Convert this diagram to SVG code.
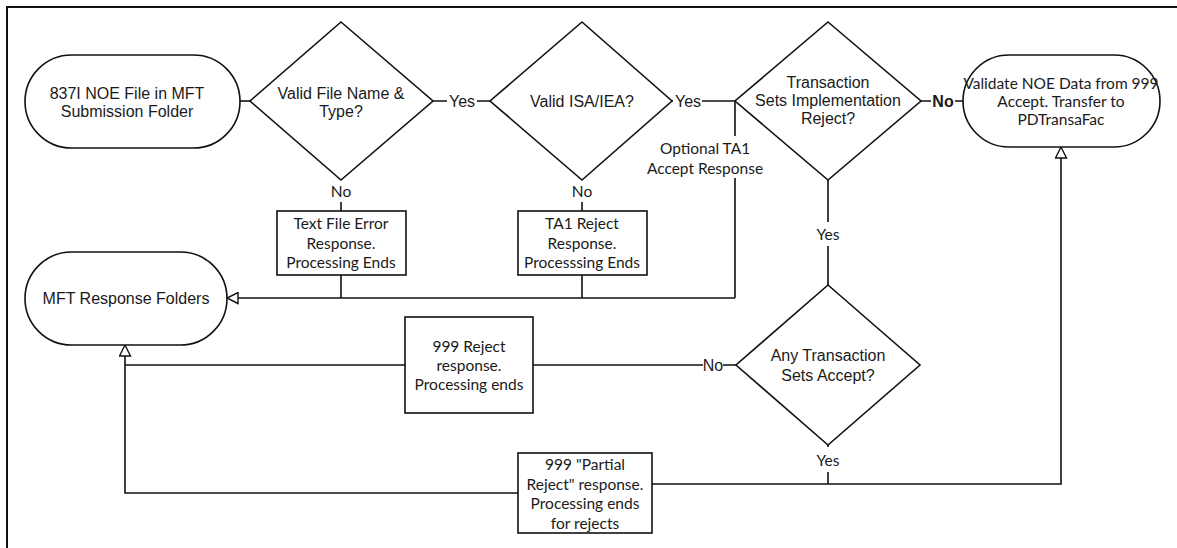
<svg xmlns="http://www.w3.org/2000/svg" width="1177" height="548" viewBox="0 0 1177 548">
<style>
.shape{fill:#fff;stroke:#111;stroke-width:1.6}
.ln{fill:none;stroke:#111;stroke-width:1.6}
.a{font-family:"Liberation Sans",Arial,sans-serif;font-size:16px;fill:#1a1a1a;text-anchor:middle;dominant-baseline:central}
.c{font-family:Lato,"Open Sans",sans-serif;font-size:15.5px;fill:#1a1a1a;text-anchor:middle;dominant-baseline:central}
</style>
<defs>
<marker id="arr" markerUnits="userSpaceOnUse" markerWidth="14" markerHeight="13" refX="12" refY="6.5" orient="auto">
<path d="M1,1 L12,6.5 L1,12 Z" fill="#fff" stroke="#111" stroke-width="1.4"/>
</marker>
</defs>
<rect x="7" y="7" width="1300" height="700" fill="none" stroke="#111" stroke-width="2"/>
<g id="connectors">
<path class="ln" d="M240,101 H250"/>
<path class="ln" d="M433,101 H447 M477,101 H490"/>
<path class="ln" d="M672,101 H673 M702,101 H735"/>
<path class="ln" d="M921,101 H931 M955,101 H963"/>
<path class="ln" d="M735,101 V136 M735,178 V298"/>
<path class="ln" d="M341,202 V211 M341,275 V298"/>
<path class="ln" d="M582,202 V211 M582,275 V298"/>
<path class="ln" d="M735,298 H227" marker-end="url(#arr)"/>
<path class="ln" d="M828,180 V222 M828,246 V285"/>
<path class="ln" d="M533,365 H703 M723,365 H736"/>
<path class="ln" d="M405,365 H125"/>
<path class="ln" d="M518,493 H125 V345" marker-end="url(#arr)"/>
<path class="ln" d="M828,445 V447 M828,472 V484"/>
<path class="ln" d="M652,484 H1061 V147" marker-end="url(#arr)"/>
<text class="a" x="462" y="101">Yes</text>
<text class="a" x="688" y="101">Yes</text>
<text class="a" x="943" y="101" font-weight="bold">No</text>
<text class="c" x="341" y="191" font-size="16">No</text>
<text class="c" x="582" y="191" font-size="16">No</text>
<text class="c" x="705" y="148" font-size="14">Optional TA1</text>
<text class="c" x="705" y="168" font-size="14">Accept Response</text>
<text class="c" x="828" y="234" font-size="20">Yes</text>
<text class="a" x="713" y="365" font-size="15">No</text>
<text class="c" x="828" y="460" font-size="20">Yes</text>
</g>
<g id="start">
<rect class="shape" x="25" y="55" width="215" height="93" rx="46.5"/>
<text class="a" x="127" y="93">837I NOE File in MFT</text>
<text class="a" x="127" y="111">Submission Folder</text>
</g>
<g id="validFileName">
<polygon class="shape" points="341,22 433,101 341,180 250,101"/>
<text class="a" x="341" y="93">Valid File Name &amp;</text>
<text class="a" x="341" y="111">Type?</text>
</g>
<g id="validISA">
<polygon class="shape" points="582,22 672,101 582,180 490,101"/>
<text class="a" x="582" y="101">Valid ISA/IEA?</text>
</g>
<g id="tsReject">
<polygon class="shape" points="828,22 921,101 828,180 735,101"/>
<text class="a" x="828" y="82">Transaction</text>
<text class="a" x="828" y="100">Sets Implementation</text>
<text class="a" x="828" y="118">Reject?</text>
</g>
<g id="validateNOE">
<rect class="shape" x="963" y="55" width="197" height="92" rx="46"/>
<text class="c" x="1061" y="83" font-size="16.5">Validate NOE Data from 999</text>
<text class="c" x="1061" y="101" font-size="16.5">Accept. Transfer to</text>
<text class="c" x="1061" y="119" font-size="16.5">PDTransaFac</text>
</g>
<g id="textFileError">
<rect class="shape" x="277" y="211" width="129" height="64"/>
<text class="c" x="341" y="223">Text File Error</text>
<text class="c" x="341" y="243">Response.</text>
<text class="c" x="341" y="262">Processing Ends</text>
</g>
<g id="ta1Reject">
<rect class="shape" x="518" y="211" width="129" height="64"/>
<text class="c" x="582" y="223">TA1 Reject</text>
<text class="c" x="582" y="243">Response.</text>
<text class="c" x="582" y="262">Processsing Ends</text>
</g>
<g id="mftResponse">
<rect class="shape" x="25" y="252" width="202" height="93" rx="46.5"/>
<text class="a" x="126" y="298" font-size="18">MFT Response Folders</text>
</g>
<g id="reject999">
<rect class="shape" x="405" y="317" width="128" height="96"/>
<text class="c" x="469" y="346">999 Reject</text>
<text class="c" x="469" y="365">response.</text>
<text class="c" x="469" y="384">Processing ends</text>
</g>
<g id="anyAccept">
<polygon class="shape" points="828,285 920,365 828,445 736,365"/>
<text class="a" x="828" y="355" font-size="18">Any Transaction</text>
<text class="a" x="828" y="375" font-size="18">Sets Accept?</text>
</g>
<g id="partialReject">
<rect class="shape" x="518" y="453" width="134" height="80"/>
<text class="c" x="585" y="464">999 "Partial</text>
<text class="c" x="585" y="484">Reject" response.</text>
<text class="c" x="585" y="503">Processing ends</text>
<text class="c" x="585" y="523">for rejects</text>
</g>
</svg>
